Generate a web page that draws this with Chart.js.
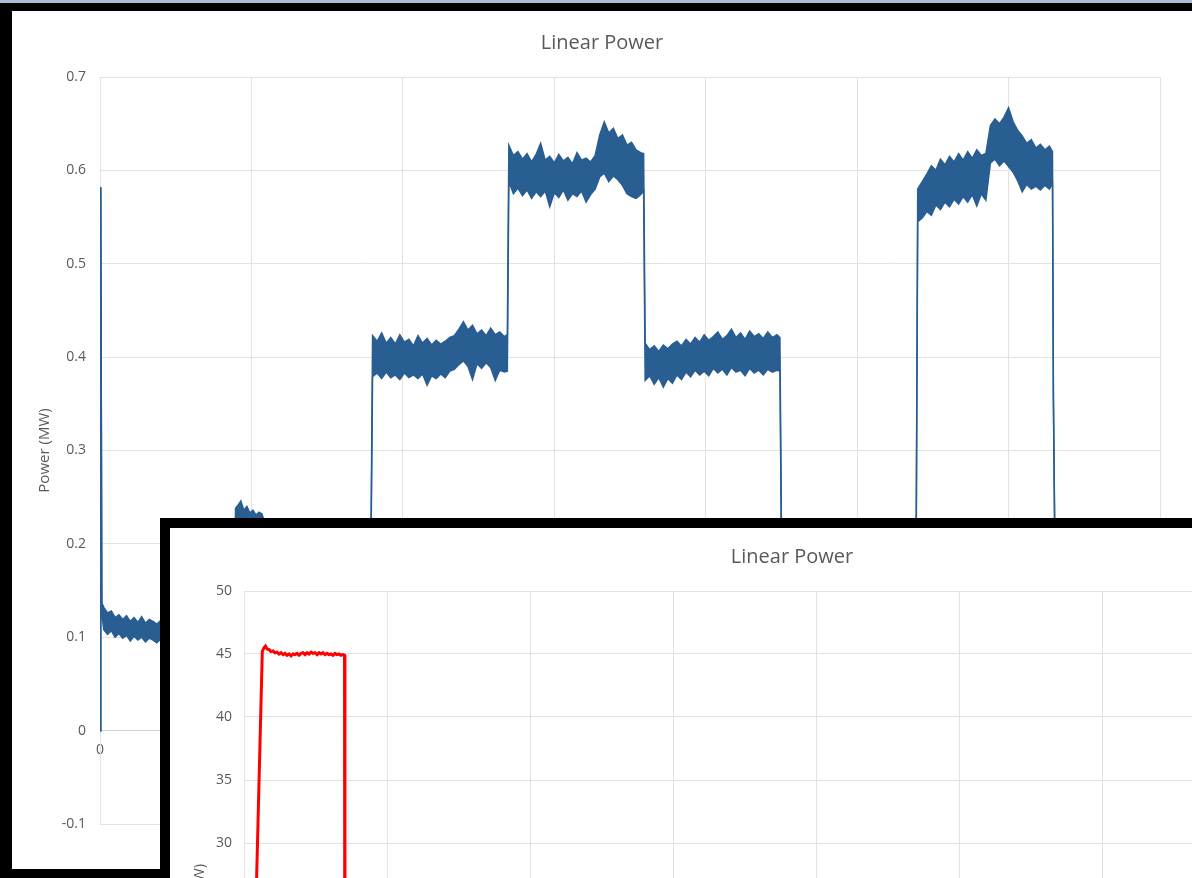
<!DOCTYPE html>
<html>
<head>
<meta charset="utf-8">
<title>Linear Power</title>
<script src="https://cdn.jsdelivr.net/npm/chart.js@4.4.0/dist/chart.umd.min.js"></script>
<style>
  html, body { margin: 0; padding: 0; }
  body { width: 1192px; height: 878px; overflow: hidden; background: #000; position: relative; }
  #sky { position: absolute; left: 0; top: 0; width: 1192px; height: 3px; background: #a9bfd6; }
  #panel1 { position: absolute; left: 12px; top: 11px; width: 1180px; height: 858px; background: #fff; }
  #panel2 { position: absolute; left: 160px; top: 518px; width: 1264px; height: 760px; background: #000; }
  #inner2 { position: absolute; left: 10px; top: 10px; width: 1244px; height: 740px; background: #fff; }
  canvas { display: block; }
</style>
</head>
<body>
<div id="sky"></div>
<div id="panel1"><canvas id="chart1" width="1180" height="858"></canvas></div>
<div id="panel2"><div id="inner2"><canvas id="chart2" width="1244" height="740"></canvas></div></div>

<script>
// ---- first chart: blue trace, drawn as upper / lower edge of the noisy band ----
const timeS = [
  0, 5, 12, 25, 50, 75, 100, 125, 150, 175, 200, 225, 250, 275, 300, 325, 350, 375, 400,
  450, 500, 550, 600, 650, 700, 750, 800, 850, 885,
  895, 910, 930, 950, 970, 990, 1010, 1030, 1050, 1070, 1090, 1110,
  1200, 1300, 1400, 1500, 1600, 1700, 1790,
  1800, 1830, 1860, 1890, 1920, 1950, 1980, 2010, 2040, 2070, 2100, 2130, 2160, 2190, 2220, 2250, 2280, 2310, 2340,
  2370, 2400, 2430, 2460, 2490, 2520, 2550, 2580, 2610, 2640, 2670, 2690,
  2700, 2730, 2760, 2790, 2820, 2850, 2880, 2910, 2940, 2970, 3000, 3030, 3060, 3090, 3120, 3150, 3180, 3210, 3240, 3270,
  3300, 3330, 3360, 3390, 3420, 3450, 3480, 3510, 3540, 3570, 3590,
  3600, 3630, 3660, 3690, 3720, 3750, 3780, 3810, 3840, 3870, 3900, 3930, 3960, 3990, 4020,
  4050, 4080, 4110, 4140, 4170, 4200, 4230, 4260, 4290, 4320, 4350, 4380, 4410, 4440, 4470, 4490,
  4500, 4600, 4700, 4800, 4900, 5000, 5100, 5200, 5300, 5390,
  5400, 5430, 5460, 5490, 5520, 5550, 5580, 5610, 5640, 5670, 5700, 5730, 5760, 5790, 5820, 5850,
  5880, 5910, 5940, 5970, 6000, 6030, 6060, 6090, 6120, 6150, 6180, 6210, 6240, 6270, 6290,
  6296, 6305, 6400, 6500, 6600, 6700
];

const powerHigh = [
  0, 0.582, 0.137, 0.132, 0.126, 0.128, 0.121, 0.124, 0.119, 0.123, 0.117, 0.121, 0.116, 0.122, 0.115, 0.119, 0.117, 0.114, 0.118,
  0.117, 0.120, 0.116, 0.119, 0.115, 0.118, 0.116, 0.119, 0.117, 0.118,
  0.238, 0.241, 0.246, 0.236, 0.240, 0.233, 0.236, 0.231, 0.234, 0.232, 0.221, 0.219,
  0.219, 0.221, 0.218, 0.221, 0.217, 0.220, 0.219,
  0.423, 0.417, 0.426, 0.415, 0.421, 0.414, 0.424, 0.416, 0.419, 0.412, 0.423, 0.415, 0.420, 0.413, 0.418, 0.414, 0.417, 0.421, 0.423,
  0.430, 0.438, 0.429, 0.434, 0.425, 0.429, 0.423, 0.431, 0.424, 0.427, 0.422, 0.424,
  0.627, 0.616, 0.620, 0.612, 0.618, 0.609, 0.617, 0.629, 0.611, 0.615, 0.608, 0.617, 0.610, 0.614, 0.607, 0.619, 0.611, 0.613, 0.609, 0.616,
  0.638, 0.652, 0.640, 0.645, 0.634, 0.638, 0.627, 0.630, 0.622, 0.619, 0.618,
  0.415, 0.408, 0.412, 0.406, 0.413, 0.409, 0.414, 0.417, 0.412, 0.419, 0.414, 0.421, 0.416, 0.424, 0.418,
  0.422, 0.427, 0.419, 0.423, 0.430, 0.421, 0.426, 0.419, 0.428, 0.422, 0.425, 0.420, 0.427, 0.421, 0.424, 0.421,
  0.216, 0.220, 0.215, 0.219, 0.214, 0.218, 0.216, 0.220, 0.215, 0.217,
  0.580, 0.588, 0.596, 0.605, 0.600, 0.612, 0.606, 0.615, 0.609, 0.618, 0.611, 0.620, 0.613, 0.622, 0.616, 0.618,
  0.648, 0.655, 0.650, 0.657, 0.667, 0.652, 0.643, 0.637, 0.629, 0.633, 0.624, 0.628, 0.622, 0.626, 0.620,
  0.357, 0.215, 0.218, 0.214, 0.219, 0.216
];

const powerLow = [
  0, 0.582, 0.125, 0.108, 0.103, 0.107, 0.100, 0.104, 0.099, 0.102, 0.096, 0.101, 0.097, 0.100, 0.095, 0.099, 0.097, 0.094, 0.098,
  0.097, 0.099, 0.096, 0.098, 0.095, 0.097, 0.096, 0.098, 0.096, 0.097,
  0.205, 0.208, 0.204, 0.207, 0.203, 0.206, 0.202, 0.205, 0.201, 0.204, 0.200, 0.203,
  0.199, 0.201, 0.198, 0.200, 0.197, 0.199, 0.200,
  0.379, 0.383, 0.377, 0.384, 0.378, 0.381, 0.376, 0.383, 0.378, 0.381, 0.377, 0.382, 0.370, 0.380, 0.377, 0.382, 0.378, 0.385, 0.387,
  0.392, 0.396, 0.390, 0.376, 0.393, 0.388, 0.394, 0.389, 0.375, 0.386, 0.384, 0.385,
  0.588, 0.575, 0.581, 0.573, 0.579, 0.570, 0.577, 0.572, 0.578, 0.561, 0.576, 0.571, 0.579, 0.568, 0.575, 0.572, 0.578, 0.566, 0.574, 0.580,
  0.593, 0.597, 0.588, 0.594, 0.590, 0.584, 0.575, 0.572, 0.570, 0.574, 0.578,
  0.375, 0.380, 0.371, 0.378, 0.368, 0.377, 0.372, 0.381, 0.376, 0.384, 0.379, 0.386, 0.381, 0.385, 0.380,
  0.388, 0.383, 0.387, 0.381, 0.389, 0.384, 0.386, 0.380, 0.388, 0.383, 0.386, 0.381, 0.387, 0.384, 0.386, 0.385,
  0.197, 0.200, 0.196, 0.199, 0.195, 0.198, 0.197, 0.200, 0.196, 0.198,
  0.545, 0.549, 0.556, 0.552, 0.563, 0.558, 0.566, 0.561, 0.569, 0.564, 0.572, 0.566, 0.574, 0.562, 0.575, 0.568,
  0.608, 0.612, 0.605, 0.610, 0.604, 0.598, 0.589, 0.577, 0.585, 0.580, 0.583, 0.579, 0.584, 0.580, 0.586,
  0.357, 0.200, 0.198, 0.195, 0.199, 0.197
];

// ---- second chart: red trace ----
const redTime = [
  0, 28, 128, 140, 150, 161, 175, 189, 203, 217, 231, 245, 259, 273, 287, 301, 315, 329, 343, 357,
  371, 385, 399, 413, 427, 441, 455, 469, 483, 497, 511, 525, 539, 552, 566, 580, 594, 608, 622, 636,
  650, 664, 678, 692, 703, 706
];
const redPower = [
  0, 0, 45.2, 45.5, 45.63, 45.4, 45.35, 45.2, 45.25, 45.1, 45.15, 45.0, 45.1, 44.95, 45.05, 44.9, 45.0, 44.85, 45.0, 44.95,
  45.05, 44.9, 45.05, 45.1, 44.95, 45.1, 45.0, 45.15, 45.05, 45.1, 44.95, 45.1, 45.0, 45.1, 44.95, 45.05, 44.95, 45.0, 44.9, 45.05,
  44.95, 45.0, 44.9, 44.95, 44.9, 0
];

const textGrey = '#595959';
const gridGrey = '#e2e2e2';
const blue = '#285e91';
const fontFamily = '"Open Sans", "Noto Sans", sans-serif';

function toPoints(xs, ys) {
  return xs.map((x, i) => ({ x: x, y: ys[i] }));
}

// chart 1
new Chart(document.getElementById('chart1'), {
  type: 'line',
  data: {
    datasets: [
      { data: toPoints(timeS, powerHigh), borderColor: blue, borderWidth: 1.5, pointRadius: 0, fill: false },
      { data: toPoints(timeS, powerLow), borderColor: blue, backgroundColor: blue, borderWidth: 1.5, pointRadius: 0, fill: '-1' }
    ]
  },
  options: {
    responsive: false,
    animation: false,
    layout: { padding: { left: 0, right: 0, top: 0, bottom: 45 } },
    plugins: {
      legend: { display: false },
      tooltip: { enabled: false },
      title: {
        display: true, text: 'Linear Power', color: textGrey,
        font: { family: fontFamily, size: 20, weight: 'normal' },
        padding: { top: 20, bottom: 22 }
      }
    },
    scales: {
      x: {
        type: 'linear', min: 0, max: 7000, position: { y: 0 },
        ticks: { stepSize: 1000, color: textGrey, font: { family: fontFamily, size: 14 }, padding: 11, maxRotation: 0 },
        grid: { color: gridGrey, drawTicks: false },
        border: { color: '#d4d4d4' }
      },
      y: {
        min: -0.1, max: 0.7,
        ticks: {
          stepSize: 0.1, color: textGrey, font: { family: fontFamily, size: 14 }, padding: 14,
          callback: v => String(Math.round(v * 10) / 10)
        },
        grid: { color: gridGrey, drawTicks: false },
        border: { color: gridGrey },
        title: { display: true, text: 'Power (MW)', color: textGrey, font: { family: fontFamily, size: 15 }, padding: { top: 24 } },
        afterFit: s => { s.width = 88; }
      },
      yRight: {
        position: 'right', min: 0, max: 1,
        ticks: { display: false }, grid: { display: false }, border: { display: false },
        afterFit: s => { s.width = 32; }
      }
    }
  }
});

// chart 2
new Chart(document.getElementById('chart2'), {
  type: 'line',
  data: {
    datasets: [
      { data: toPoints(redTime, redPower), borderColor: '#ff0000', borderWidth: 3, pointRadius: 0, fill: false }
    ]
  },
  options: {
    responsive: false,
    animation: false,
    layout: { padding: { left: 0, right: 0, top: 0, bottom: 0 } },
    plugins: {
      legend: { display: false },
      tooltip: { enabled: false },
      title: {
        display: true, text: 'Linear Power', color: textGrey,
        font: { family: fontFamily, size: 20, weight: 'normal' },
        padding: { top: 17, bottom: 22 }
      }
    },
    scales: {
      x: {
        type: 'linear', min: 0, max: 8000,
        ticks: { stepSize: 1000, color: textGrey, font: { family: fontFamily, size: 14 }, padding: 6, maxRotation: 0 },
        grid: { color: gridGrey, drawTicks: false },
        border: { color: '#d4d4d4' },
        afterFit: s => { s.height = 47; }
      },
      y: {
        min: 0, max: 50,
        ticks: { stepSize: 5, color: textGrey, font: { family: fontFamily, size: 14 }, padding: 12 },
        grid: { color: gridGrey, drawTicks: false },
        border: { color: gridGrey },
        title: { display: true, text: 'Power (MW)', color: textGrey, font: { family: fontFamily, size: 15 }, padding: { top: 21 } },
        afterFit: s => { s.width = 74; }
      },
      yRight: {
        position: 'right', min: 0, max: 1,
        ticks: { display: false }, grid: { display: false }, border: { display: false },
        afterFit: s => { s.width = 26; }
      }
    }
  }
});
</script>
</body>
</html>
